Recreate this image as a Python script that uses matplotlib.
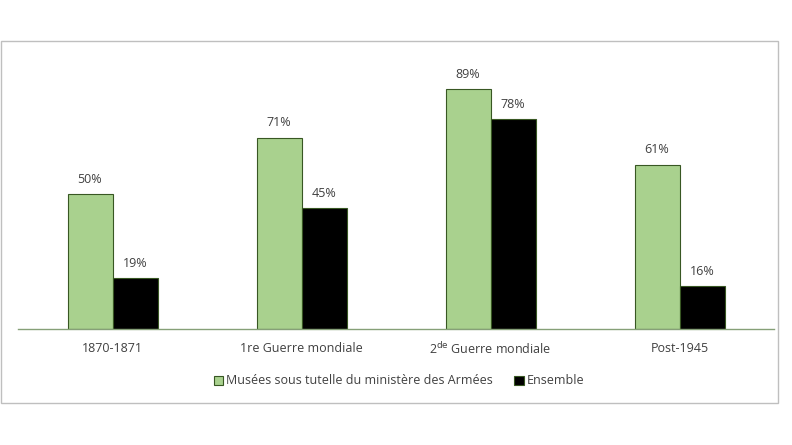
import numpy as np
import matplotlib.pyplot as plt
from matplotlib.patches import Rectangle

# data
categories = ['1870-1871', '1re Guerre mondiale', '2$^{\\mathrm{de}}$ Guerre mondiale', 'Post-1945']
musees = [50, 71, 89, 61]
ensemble = [19, 45, 78, 16]
series_names = ['Musées sous tutelle du ministère des Armées', 'Ensemble']

plt.rcParams['font.family'] = ['Open Sans', 'DejaVu Sans']
txt_col = '#404040'
fs = 9

W, H = 792, 445
fig = plt.figure(figsize=(W/100, H/100), dpi=100)

# outer frame
fig.patches.append(Rectangle((0.5/W, 1-403/H), 777/W, 362/H, transform=fig.transFigure,
                             fill=False, edgecolor='#bfbfbf', linewidth=1))

ax = fig.add_axes([18/W, 1-329/H, 756/W, 271/H])
x = np.arange(len(categories))
bw = 45/189

b1 = ax.bar(x - bw/2, musees, bw, color='#a9d18e', edgecolor='#385723', linewidth=0.8,
            label=series_names[0])
b2 = ax.bar(x + bw/2, ensemble, bw, color='#000000', edgecolor='#385723', linewidth=0.8,
            label=series_names[1])

for bars, vals in ((b1, musees), (b2, ensemble)):
    for r, v in zip(bars, vals):
        ax.text(r.get_x() + r.get_width()/2, v + 3, '%d%%' % v, ha='center', va='bottom',
                fontsize=fs, color=txt_col)

ax.set_xlim(-0.5, len(categories) - 0.5)
ax.set_ylim(0, 100.5)
ax.set_xticks(x)
ax.set_xticklabels(categories, fontsize=fs, color=txt_col)
ax.tick_params(axis='x', length=0, pad=9)
ax.set_yticks([])
for s in ['top', 'right', 'left']:
    ax.spines[s].set_visible(False)
ax.spines['bottom'].set_color('#86a078')
ax.spines['bottom'].set_linewidth(1)

leg = fig.legend(loc='center', bbox_to_anchor=(399/W, 1-381/H), ncol=2, frameon=False,
                 fontsize=fs, handlelength=0.75, handleheight=0.75, handletextpad=0.25,
                 columnspacing=1.7)
for t in leg.get_texts():
    t.set_color(txt_col)

fig.savefig('out.png', dpi=100)
